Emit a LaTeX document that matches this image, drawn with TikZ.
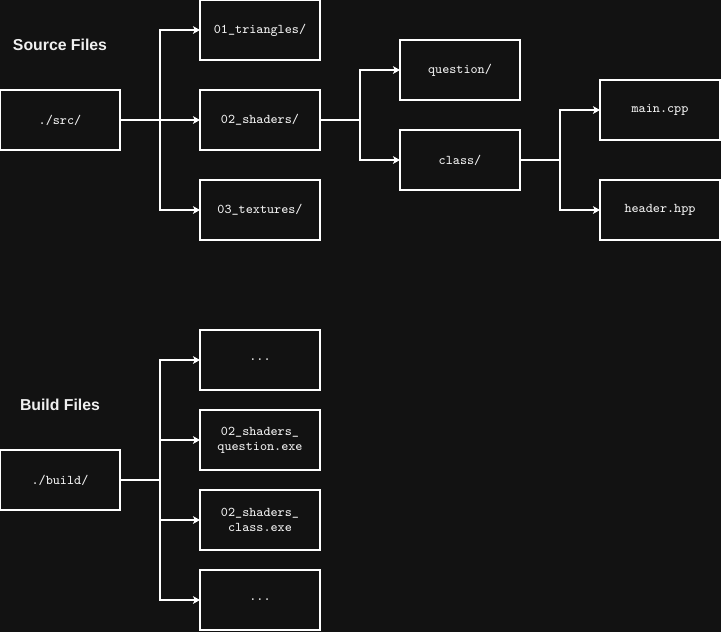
\documentclass[tikz,border=0pt]{standalone}
\usepackage{fontspec}
\setsansfont{Liberation Sans}
\usetikzlibrary{positioning,arrows.meta}
\definecolor{hintergrund}{RGB}{18,18,18}
\definecolor{schrift}{RGB}{240,240,240}
\tikzset {
ordner/.style={shape=rectangle,draw=white,fill=hintergrund,text=schrift,line width=0.6pt,minimum width=2.4cm,minimum height=1.2cm,inner sep=0pt,outer sep=0pt,align=center,font=\ttfamily\fontsize{7.6}{8.5}\selectfont},
titel/.style={text=schrift,font=\sffamily\bfseries\fontsize{9}{11}\selectfont},
pfeil/.style={draw=white,line width=0.6pt,-{Stealth[length=4pt,width=4.4pt,inset=1pt]}}
}
\begin{document}
\begin{tikzpicture}
[node distance=1cm]
\fill[hintergrund] (0,0) rectangle (14.42,-12.64);
\useasboundingbox (0,0) rectangle (14.42,-12.64);
\node[titel] (source files) at (1.2,-0.9) {Source Files};
\node[ordner] (src) at (1.2,-2.4) {./src/};
\node[ordner] (shaders) [right=1.6cm of src] {02\_shaders/};
\node[ordner] (triangles) [above=0.6cm of shaders] {01\_triangles/};
\node[ordner] (textures) [below=0.6cm of shaders] {03\_textures/};
\node[ordner] (question) [right=1.6cm of shaders,yshift=1cm] {question/};
\node[ordner] (class) [right=1.6cm of shaders,yshift=-0.8cm] {class/};
\node[ordner] (main cpp) [right=1.6cm of class,yshift=1cm] {main.cpp};
\node[ordner] (header hpp) [right=1.6cm of class,yshift=-1cm] {header.hpp};

\node[titel] (build files) at (1.2,-8.1) {Build Files};
\node[ordner] (build) at (1.2,-9.6) {./build/};
\node[ordner] (question exe) [right=1.6cm of build,yshift=0.8cm] {02\_shaders\_\\question.exe};
\node[ordner] (dots oben) [above=0.4cm of question exe] {...};
\node[ordner] (class exe) [below=0.4cm of question exe] {02\_shaders\_\\class.exe};
\node[ordner] (dots unten) [below=0.4cm of class exe] {...};

\draw[pfeil] (src.east) -- ++(0.8,0) |- (triangles.west);
\draw[pfeil] (src.east) -- (shaders.west);
\draw[pfeil] (src.east) -- ++(0.8,0) |- (textures.west);
\draw[pfeil] (shaders.east) -- ++(0.8,0) |- (question.west);
\draw[pfeil] (shaders.east) -- ++(0.8,0) |- (class.west);
\draw[pfeil] (class.east) -- ++(0.8,0) |- (main cpp.west);
\draw[pfeil] (class.east) -- ++(0.8,0) |- (header hpp.west);

\draw[pfeil] (build.east) -- ++(0.8,0) |- (dots oben.west);
\draw[pfeil] (build.east) -- ++(0.8,0) |- (question exe.west);
\draw[pfeil] (build.east) -- ++(0.8,0) |- (class exe.west);
\draw[pfeil] (build.east) -- ++(0.8,0) |- (dots unten.west);
\end{tikzpicture}
\end{document}
